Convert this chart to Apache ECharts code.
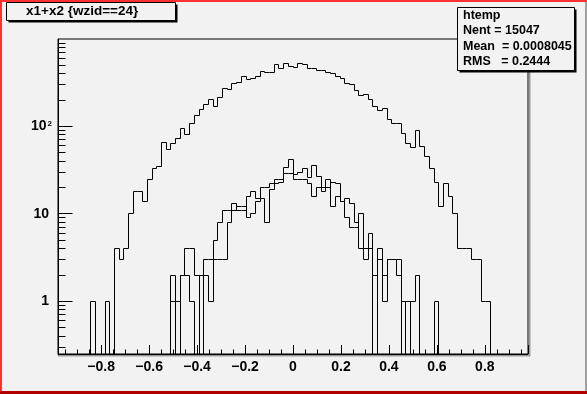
<!DOCTYPE html>
<html><head><meta charset="utf-8">
<script src="https://cdn.jsdelivr.net/npm/echarts@6/dist/echarts.min.js"></script>
<style>html,body{margin:0;padding:0;background:#f2f2f2}#c{width:587px;height:394px}</style>
</head><body><div id="c"></div><script>
// Histogram definition
const X_MIN = -0.98, X_MAX = 0.98, N_BINS = 100;
const Y_MIN = 0.25, Y_MAX = 1000;

// main histogram (htemp), counts per bin
const mainCounts = [
  0,0,0,0,0,0,0,1,0,0, 1,0,4,3,4,10,18,18,14,25,
  33,35,66,54,64,72,94,80,109,132, 158,176,206,171,217,275,268,310,319,377,
  340,351,377,426,419,419,508,454,531,482, 470,518,508,454,454,434,434,419,408,373,
  357,308,300,261,226,231,202,167,151,162, 119,109,107,82,63,58,89,59,45,33,
  23,12,22,16,10,4,4,4,3,3, 1,1,0,0,0,0,0,0,0,0
];
// overlaid histogram 1
const subCountsA = [
  0,0,0,0,0,0,0,0,0,0, 0,0,0,0,0,0,0,0,0,0,
  0,0,0,0,2,0,2,2,1,0, 2,2,1,5,8,11,11,13,11,11,
  16,18,15,20,20,22,25,25,34,42, 28,30,33,26,36,27,18,25,12,16,
  14,9,7,7,10,3,6,2,4,2, 3,3,2,1,0,1,2,0,0,0,
  1,0,0,0,0,0,0,0,0,0, 0,0,0,0,0,0,0,0,0,0
];
// overlaid histogram 2
const subCountsB = [
  0,0,0,0,0,0,0,0,0,0, 0,0,0,0,0,0,0,0,0,0,
  0,0,0,0,1,1,2,4,4,2, 0,3,3,3,3,3,8,11,12,12,
  9,10,14,15,8,19,22,23,29,29, 25,25,25,22,16,20,20,20,23,22,
  14,15,13,8,4,4,4,0,3,1, 3,3,3,0,1,0,0,0,0,0,
  0,0,0,0,0,0,0,0,0,0, 0,0,0,0,0,0,0,0,0,0
];
// axis ticks and labels
const yMajorTicks = [1, 10, 100];
const yMinorTicks = [0.3,0.4,0.5,0.6,0.7,0.8,0.9, 2,3,4,5,6,7,8,9, 20,30,40,50,60,70,80,90, 200,300,400,500,600,700,800,900];
const yLabelValues = [1, 10, 100];
const yLabelTexts = ['{n|1}', '{n|10}', '{a|10}{s|2}'];
const titleText = 'x1+x2 {wzid==24}';
const statsLines = ['htemp', 'Nent = 15047', 'Mean  = 0.0008045', 'RMS   = 0.2444'];

const clampV = c => (c > 0 ? c : Y_MIN);
function histData(counts) {
  const w = (X_MAX - X_MIN) / N_BINS;
  const d = [];
  for (let i = 0; i < N_BINS; i++) {
    const next = i < N_BINS - 1 ? counts[i + 1] : counts[i];
    d.push([X_MIN + i * w, X_MIN + (i + 1) * w, clampV(counts[i]), clampV(next)]);
  }
  return d;
}
const px = v => Math.floor(v) + 0.5;
function histSeries(counts) {
  return {
    type: 'custom', data: histData(counts), clip: true, silent: true, animation: false,
    encode: { x: [0, 1], y: [2, 3] },
    renderItem: (params, api) => {
      const a = api.coord([api.value(0), api.value(2)]);
      const b = api.coord([api.value(1), api.value(2)]);
      const c = api.coord([api.value(1), api.value(3)]);
      return {
        type: 'polyline',
        shape: { points: [[px(a[0]), px(a[1])], [px(b[0]), px(b[1])], [px(c[0]), px(c[1])]] },
        style: { stroke: '#000', lineWidth: 1, fill: null }
      };
    }
  };
}
function tickSeries(values, len) {
  return {
    type: 'custom', data: values.map(v => [X_MIN, v]), silent: true, animation: false, z: 3,
    encode: { x: 0, y: 1 },
    renderItem: (params, api) => {
      const p = api.coord([api.value(0), api.value(1)]);
      return {
        type: 'line',
        shape: { x1: px(p[0]), y1: px(p[1]), x2: px(p[0]) + len, y2: px(p[1]) },
        style: { stroke: '#000', lineWidth: 1 }
      };
    }
  };
}

const chart = echarts.init(document.getElementById('c'), null, { renderer: 'canvas' });
const FONT = '"Liberation Sans", Arial, Helvetica, sans-serif';
const statsGraphics = statsLines.map((t, i) => ({
  type: 'text', left: 463, top: 9 + i * 15.3, z: 20,
  style: { text: t, font: 'bold 12.5px ' + FONT, fill: '#000' }
}));

chart.setOption({
  backgroundColor: '#f2f2f2',
  animation: false,
  grid: { left: 58, top: 39, width: 470, height: 315, show: true, borderColor: '#000', borderWidth: 1, backgroundColor: 'transparent' },
  xAxis: {
    type: 'value', min: X_MIN, max: X_MAX, splitNumber: 10,
    axisLine: { show: true, onZero: false, lineStyle: { color: '#000', width: 1 } },
    axisTick: { show: true, inside: true, length: 9, lineStyle: { color: '#000' } },
    minorTick: { show: true, splitNumber: 4, length: 4.5, lineStyle: { color: '#000' } },
    splitLine: { show: false },
    axisLabel: {
      showMinLabel: false, showMaxLabel: false, margin: 6,
      color: '#000', fontFamily: FONT, fontWeight: 'bold', fontSize: 14,
      formatter: v => Math.abs(v) < 1e-9 ? '0' : (v < 0 ? '\u2212' : '') + Math.abs(v).toFixed(1)
    }
  },
  yAxis: {
    type: 'log', logBase: 10, min: Y_MIN, max: Y_MAX,
    axisLine: { show: true, onZero: false, lineStyle: { color: '#000', width: 1 } },
    axisTick: { show: false },
    minorTick: { show: false },
    splitLine: { show: false },
    axisLabel: {
      margin: 6, color: '#000', fontFamily: FONT, fontWeight: 'bold', fontSize: 14,
      formatter: v => {
        for (let k = 0; k < yLabelValues.length; k++) if (Math.abs(v - yLabelValues[k]) < 1e-6 * yLabelValues[k]) return yLabelTexts[k];
        return '';
      },
      rich: {
        n: { fontFamily: FONT, fontWeight: 'bold', fontSize: 14, lineHeight: 14, padding: [0, 3, 0, 0] },
        a: { fontFamily: FONT, fontWeight: 'bold', fontSize: 14, lineHeight: 14, padding: [10, 0, 10, 0] },
        s: { fontFamily: FONT, fontWeight: 'bold', fontSize: 8, lineHeight: 8, verticalAlign: 'top', padding: [0, 0, 0, 1] }
      }
    }
  },
  series: [histSeries(mainCounts), histSeries(subCountsA), histSeries(subCountsB),
           tickSeries(yMajorTicks, 14), tickSeries(yMinorTicks, 7)],
  graphic: [
    // canvas border
    { type: 'rect', shape: { x: 0, y: 0, width: 587, height: 2 }, style: { fill: '#ff3030' }, z: 30 },
    { type: 'rect', shape: { x: 0, y: 0, width: 2, height: 394 }, style: { fill: '#ff3030' }, z: 30 },
    { type: 'rect', shape: { x: 0, y: 391, width: 587, height: 3 }, style: { fill: '#b00000' }, z: 30 },
    { type: 'rect', shape: { x: 585, y: 2, width: 2, height: 389 }, style: { fill: '#a0a0a0' }, z: 30 },
    // frame shadow
    { type: 'rect', shape: { x: 529, y: 39, width: 1.5, height: 317 }, style: { fill: '#9a9a9a' }, z: 5 },
    { type: 'rect', shape: { x: 58, y: 355, width: 472, height: 1.5 }, style: { fill: '#9a9a9a' }, z: 5 },
    // title box
    { type: 'rect', shape: { x: 8.5, y: 4.5, width: 169, height: 18 }, style: { fill: '#000' }, z: 19 },
    { type: 'rect', shape: { x: 6.5, y: 2.5, width: 169, height: 18 }, style: { fill: '#f2f2f2', stroke: '#000', lineWidth: 1 }, z: 20 },
    { type: 'text', left: 26, top: 4, z: 21, style: { text: titleText, font: 'bold 13.5px ' + FONT, fill: '#000' } },
    // stats box
    { type: 'rect', shape: { x: 459.5, y: 9.5, width: 117, height: 63 }, style: { fill: '#000' }, z: 19 },
    { type: 'rect', shape: { x: 457.5, y: 7.5, width: 117, height: 63 }, style: { fill: '#f2f2f2', stroke: '#000', lineWidth: 1 }, z: 19.5 }
  ].concat(statsGraphics)
});
</script></body></html>
